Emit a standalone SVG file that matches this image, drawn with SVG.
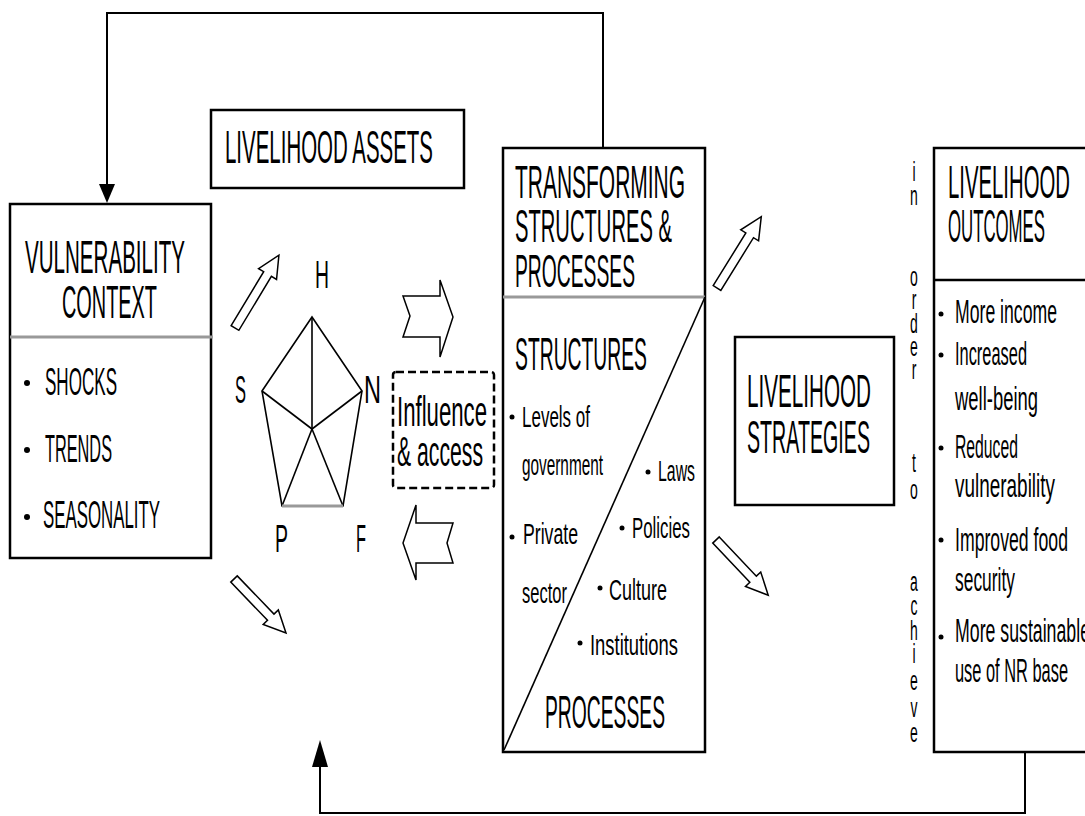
<svg xmlns="http://www.w3.org/2000/svg" width="1085" height="816" viewBox="0 0 1085 816">
<style>
text{font-family:"Liberation Sans",Arial,sans-serif;fill:#000}
.box{fill:#fff;stroke:#000;stroke-width:2.5}
.div{stroke:#999;stroke-width:3}
.h{font-size:46px}
.vb{font-size:38px}
.sb{font-size:29px}
.ob{font-size:34px}
.pl{font-size:38px}
.ln{fill:none;stroke:#000;stroke-width:1.6}
.conn{fill:none;stroke:#000;stroke-width:2}
.blk{fill:#fff;stroke:#000;stroke-width:1.5;stroke-linejoin:miter}
.ord{font-size:28px;text-anchor:middle}
</style>
<rect width="1085" height="816" fill="#fff"/>

<g id="connectors">
  <polyline class="conn" points="603,148 603,13 107,13 107,185"/>
  <polygon points="99,184 115,184 107,203" fill="#000"/>
  <polyline class="conn" points="1025,752 1025,813 320,813 320,766" stroke="#333" stroke-width="1.5"/>
  <polygon points="312,767 328,767 320,740" fill="#000"/>
  <polygon class="blk" points="0,-4.5 63,-4.5 63,-10.5 85,0 63,10.5 63,4.5 0,4.5" transform="translate(235,328) rotate(-58.9)"/>
  <polygon class="blk" points="0,-4.5 53,-4.5 53,-10.5 75,0 53,10.5 53,4.5 0,4.5" transform="translate(234,579) rotate(46.1)"/>
  <polygon class="blk" points="0,-4.5 62,-4.5 62,-10.5 84,0 62,10.5 62,4.5 0,4.5" transform="translate(717,288) rotate(-58.2)"/>
  <polygon class="blk" points="0,-4.5 54,-4.5 54,-10.5 76,0 54,10.5 54,4.5 0,4.5" transform="translate(716,540) rotate(46.6)"/>
  <polygon class="blk" points="403,296 440,296 440,280 453,317 440,357 440,337 403,337 410,316"/>
  <polygon class="blk" points="403,543 416,505 416,523 453,523 447,543 453,563 416,563 416,580"/>
</g>

<g id="vulnerability">
  <rect class="box" x="10" y="204" width="201" height="354"/>
  <line class="div" x1="10" y1="337" x2="213" y2="337"/>
  <text class="h" x="25" y="273" textLength="160" lengthAdjust="spacingAndGlyphs">VULNERABILITY</text>
  <text class="h" x="62" y="318" textLength="95" lengthAdjust="spacingAndGlyphs">CONTEXT</text>
  <circle cx="27" cy="383" r="3"/>
  <circle cx="27" cy="450" r="3"/>
  <circle cx="27" cy="517" r="3"/>
  <text class="vb" x="45" y="395" textLength="72" lengthAdjust="spacingAndGlyphs">SHOCKS</text>
  <text class="vb" x="45" y="462" textLength="67" lengthAdjust="spacingAndGlyphs">TRENDS</text>
  <text class="vb" x="43" y="528" textLength="117" lengthAdjust="spacingAndGlyphs">SEASONALITY</text>
</g>

<g id="assets">
  <rect class="box" x="211" y="110" width="253" height="78"/>
  <text class="h" x="225" y="163" font-size="48" textLength="208" lengthAdjust="spacingAndGlyphs">LIVELIHOOD ASSETS</text>
</g>

<g id="pentagon">
  <polygon class="ln" points="312,317 362,391 343,506 282,506 262,391"/>
  <line class="ln" x1="312" y1="429" x2="312" y2="317"/>
  <line class="ln" x1="312" y1="429" x2="362" y2="391"/>
  <line class="ln" x1="312" y1="429" x2="343" y2="506"/>
  <line class="ln" x1="312" y1="429" x2="282" y2="506"/>
  <line class="ln" x1="312" y1="429" x2="262" y2="391"/>
  <line x1="282" y1="506" x2="343" y2="506" stroke="#999" stroke-width="3"/>
  <text class="pl" x="315" y="288" textLength="14" lengthAdjust="spacingAndGlyphs">H</text>
  <text class="pl" x="235" y="403" textLength="11" lengthAdjust="spacingAndGlyphs">S</text>
  <text class="pl" x="364" y="403" textLength="17" lengthAdjust="spacingAndGlyphs">N</text>
  <text class="pl" x="275" y="552" textLength="13" lengthAdjust="spacingAndGlyphs">P</text>
  <text class="pl" x="356" y="552" textLength="10" lengthAdjust="spacingAndGlyphs">F</text>
</g>

<g id="influence">
  <rect x="393" y="372" width="101" height="116" rx="3" fill="none" stroke="#000" stroke-width="2.5" stroke-dasharray="8 4"/>
  <text x="397" y="426" font-size="42" textLength="90" lengthAdjust="spacingAndGlyphs">Influence</text>
  <text x="397" y="466" font-size="42" textLength="86" lengthAdjust="spacingAndGlyphs">&amp; access</text>
</g>

<g id="transforming">
  <rect class="box" x="503" y="148" width="202" height="604"/>
  <line class="div" x1="503" y1="297" x2="705" y2="297"/>
  <line class="ln" x1="504" y1="750" x2="705" y2="297"/>
  <text class="h" x="515" y="198" textLength="170" lengthAdjust="spacingAndGlyphs">TRANSFORMING</text>
  <text class="h" x="515" y="242" textLength="157" lengthAdjust="spacingAndGlyphs">STRUCTURES &amp;</text>
  <text class="h" x="515" y="287" textLength="120" lengthAdjust="spacingAndGlyphs">PROCESSES</text>
  <text class="h" x="515" y="370" textLength="132" lengthAdjust="spacingAndGlyphs">STRUCTURES</text>
  <circle cx="512" cy="417" r="2.5"/>
  <text class="sb" x="522" y="427" textLength="68" lengthAdjust="spacingAndGlyphs">Levels of</text>
  <text class="sb" x="522" y="475" textLength="81" lengthAdjust="spacingAndGlyphs">government</text>
  <circle cx="648" cy="472" r="2.5"/>
  <text class="sb" x="658" y="481" textLength="37" lengthAdjust="spacingAndGlyphs">Laws</text>
  <circle cx="512" cy="537" r="2.5"/>
  <text class="sb" x="523" y="544" textLength="55" lengthAdjust="spacingAndGlyphs">Private</text>
  <text class="sb" x="522" y="603" textLength="45" lengthAdjust="spacingAndGlyphs">sector</text>
  <circle cx="622" cy="528" r="2.5"/>
  <text class="sb" x="632" y="538" textLength="58" lengthAdjust="spacingAndGlyphs">Policies</text>
  <circle cx="600" cy="588" r="2.5"/>
  <text class="sb" x="609" y="600" textLength="58" lengthAdjust="spacingAndGlyphs">Culture</text>
  <circle cx="580" cy="643" r="2.5"/>
  <text class="sb" x="590" y="655" textLength="88" lengthAdjust="spacingAndGlyphs">Institutions</text>
  <text class="h" x="545" y="728" textLength="120" lengthAdjust="spacingAndGlyphs">PROCESSES</text>
</g>

<g id="strategies">
  <rect class="box" x="735" y="337" width="159" height="168"/>
  <text class="h" x="747" y="407" textLength="124" lengthAdjust="spacingAndGlyphs">LIVELIHOOD</text>
  <text class="h" x="747" y="453" textLength="123" lengthAdjust="spacingAndGlyphs">STRATEGIES</text>
</g>

<g id="in-order-to-achieve" transform="translate(914,0) scale(0.5,1)">
  <text class="ord" x="0" y="181">i</text>
  <text class="ord" x="0" y="205">n</text>
  <text class="ord" x="0" y="286">o</text>
  <text class="ord" x="0" y="309">r</text>
  <text class="ord" x="0" y="333">d</text>
  <text class="ord" x="0" y="356">e</text>
  <text class="ord" x="0" y="379">r</text>
  <text class="ord" x="0" y="472">t</text>
  <text class="ord" x="0" y="499">o</text>
  <text class="ord" x="0" y="591">a</text>
  <text class="ord" x="0" y="615">c</text>
  <text class="ord" x="0" y="640">h</text>
  <text class="ord" x="0" y="663">i</text>
  <text class="ord" x="0" y="690">e</text>
  <text class="ord" x="0" y="717">v</text>
  <text class="ord" x="0" y="742">e</text>
</g>

<g id="outcomes">
  <rect class="box" x="934" y="148" width="200" height="604"/>
  <line x1="934" y1="280" x2="1085" y2="280" stroke="#000" stroke-width="2.5"/>
  <text class="h" x="948" y="198" textLength="122" lengthAdjust="spacingAndGlyphs">LIVELIHOOD</text>
  <text class="h" x="948" y="242" textLength="97" lengthAdjust="spacingAndGlyphs">OUTCOMES</text>
  <circle cx="941" cy="314" r="2.5"/>
  <text class="ob" x="955" y="323" textLength="102" lengthAdjust="spacingAndGlyphs">More income</text>
  <circle cx="941" cy="355" r="2.5"/>
  <text class="ob" x="955" y="365" textLength="72" lengthAdjust="spacingAndGlyphs">Increased</text>
  <text class="ob" x="955" y="410" textLength="83" lengthAdjust="spacingAndGlyphs">well-being</text>
  <circle cx="941" cy="448" r="2.5"/>
  <text class="ob" x="955" y="458" textLength="63" lengthAdjust="spacingAndGlyphs">Reduced</text>
  <text class="ob" x="955" y="497" textLength="100" lengthAdjust="spacingAndGlyphs">vulnerability</text>
  <circle cx="941" cy="540" r="2.5"/>
  <text class="ob" x="955" y="551" textLength="113" lengthAdjust="spacingAndGlyphs">Improved food</text>
  <text class="ob" x="955" y="591" textLength="60" lengthAdjust="spacingAndGlyphs">security</text>
  <circle cx="941" cy="637" r="2.5"/>
  <text class="ob" x="955" y="642" textLength="135" lengthAdjust="spacingAndGlyphs">More sustainable</text>
  <text class="ob" x="955" y="682" textLength="113" lengthAdjust="spacingAndGlyphs">use of NR base</text>
</g>
</svg>
